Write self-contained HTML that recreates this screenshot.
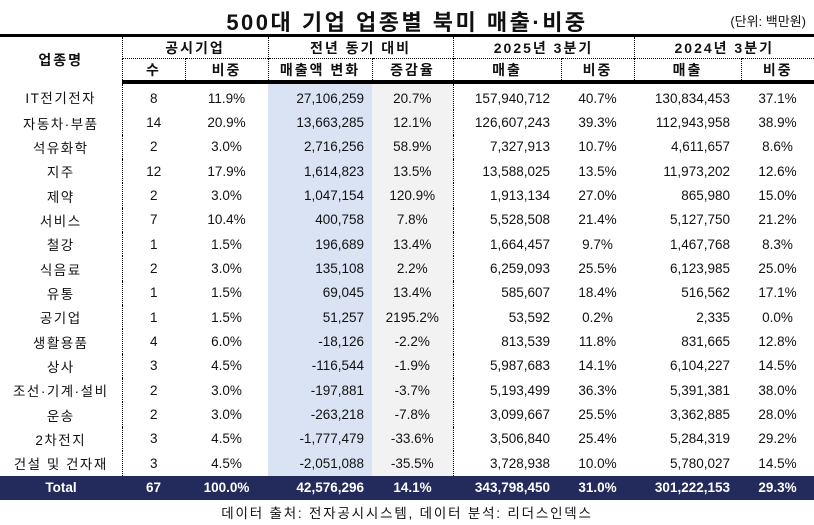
<!DOCTYPE html>
<html><head><meta charset="utf-8"><style>
body{margin:0;width:814px;height:525px;background:#fff;font-family:"Liberation Sans","Noto Sans CJK KR",sans-serif;color:#111;overflow:hidden;position:relative}
.title{position:absolute;top:5px;left:0;width:814px;text-align:center;font-size:22px;font-weight:bold;letter-spacing:2.5px}
.unit{position:absolute;top:11px;right:8px;font-size:13px}
table{position:absolute;top:34px;left:0;border-collapse:collapse;table-layout:fixed;width:814px;font-size:13.5px}
td{padding:0;height:24.35px;text-align:center;white-space:nowrap}
thead td{height:21px;font-weight:bold;font-size:14px;letter-spacing:2px}
thead tr:first-child td{border-top:3px solid #000}
thead tr:last-child td{border-bottom:4px solid #000;border-top:1px dotted #000}
tbody td:first-child{letter-spacing:1.5px}
.dl{border-left:1px dotted #000}
.r{text-align:right;padding-right:8px}
.rs{text-align:right;padding-right:11px}
.b{background:#dae3f3}.g{background:#f2f2f2}
tr.tot td{background:#232a5c;color:#fff;font-weight:bold;height:24px;letter-spacing:0}
tbody tr:first-child td{padding-top:2px}
.foot{position:absolute;top:502px;left:0;width:814px;text-align:center;font-size:13.5px;letter-spacing:1.8px}
</style></head><body>
<div class="title">500대 기업 업종별 북미 매출·비중</div>
<div class="unit">(단위: 백만원)</div>
<table>
<colgroup><col style="width:122px"><col style="width:63px"><col style="width:83px"><col style="width:104px"><col style="width:81px"><col style="width:108px"><col style="width:73px"><col style="width:107px"><col style="width:73px"></colgroup>
<thead>
<tr><td rowspan="2">업종명</td><td colspan="2" class="dl">공시기업</td><td colspan="2" class="dl">전년 동기 대비</td><td colspan="2" class="dl">2025년 3분기</td><td colspan="2" class="dl">2024년 3분기</td></tr>
<tr><td class="dl">수</td><td class="dl">비중</td><td class="dl">매출액 변화</td><td class="dl">증감율</td><td class="dl">매출</td><td class="dl">비중</td><td class="dl">매출</td><td class="dl">비중</td></tr>
</thead>
<tbody>
<tr><td>IT전기전자</td><td class="dl">8</td><td>11.9%</td><td class="b r">27,106,259</td><td class="g">20.7%</td><td class="dl rs">157,940,712</td><td>40.7%</td><td class="rs">130,834,453</td><td>37.1%</td></tr>
<tr><td>자동차·부품</td><td class="dl">14</td><td>20.9%</td><td class="b r">13,663,285</td><td class="g">12.1%</td><td class="dl rs">126,607,243</td><td>39.3%</td><td class="rs">112,943,958</td><td>38.9%</td></tr>
<tr><td>석유화학</td><td class="dl">2</td><td>3.0%</td><td class="b r">2,716,256</td><td class="g">58.9%</td><td class="dl rs">7,327,913</td><td>10.7%</td><td class="rs">4,611,657</td><td>8.6%</td></tr>
<tr><td>지주</td><td class="dl">12</td><td>17.9%</td><td class="b r">1,614,823</td><td class="g">13.5%</td><td class="dl rs">13,588,025</td><td>13.5%</td><td class="rs">11,973,202</td><td>12.6%</td></tr>
<tr><td>제약</td><td class="dl">2</td><td>3.0%</td><td class="b r">1,047,154</td><td class="g">120.9%</td><td class="dl rs">1,913,134</td><td>27.0%</td><td class="rs">865,980</td><td>15.0%</td></tr>
<tr><td>서비스</td><td class="dl">7</td><td>10.4%</td><td class="b r">400,758</td><td class="g">7.8%</td><td class="dl rs">5,528,508</td><td>21.4%</td><td class="rs">5,127,750</td><td>21.2%</td></tr>
<tr><td>철강</td><td class="dl">1</td><td>1.5%</td><td class="b r">196,689</td><td class="g">13.4%</td><td class="dl rs">1,664,457</td><td>9.7%</td><td class="rs">1,467,768</td><td>8.3%</td></tr>
<tr><td>식음료</td><td class="dl">2</td><td>3.0%</td><td class="b r">135,108</td><td class="g">2.2%</td><td class="dl rs">6,259,093</td><td>25.5%</td><td class="rs">6,123,985</td><td>25.0%</td></tr>
<tr><td>유통</td><td class="dl">1</td><td>1.5%</td><td class="b r">69,045</td><td class="g">13.4%</td><td class="dl rs">585,607</td><td>18.4%</td><td class="rs">516,562</td><td>17.1%</td></tr>
<tr><td>공기업</td><td class="dl">1</td><td>1.5%</td><td class="b r">51,257</td><td class="g">2195.2%</td><td class="dl rs">53,592</td><td>0.2%</td><td class="rs">2,335</td><td>0.0%</td></tr>
<tr><td>생활용품</td><td class="dl">4</td><td>6.0%</td><td class="b r">-18,126</td><td class="g">-2.2%</td><td class="dl rs">813,539</td><td>11.8%</td><td class="rs">831,665</td><td>12.8%</td></tr>
<tr><td>상사</td><td class="dl">3</td><td>4.5%</td><td class="b r">-116,544</td><td class="g">-1.9%</td><td class="dl rs">5,987,683</td><td>14.1%</td><td class="rs">6,104,227</td><td>14.5%</td></tr>
<tr><td>조선·기계·설비</td><td class="dl">2</td><td>3.0%</td><td class="b r">-197,881</td><td class="g">-3.7%</td><td class="dl rs">5,193,499</td><td>36.3%</td><td class="rs">5,391,381</td><td>38.0%</td></tr>
<tr><td>운송</td><td class="dl">2</td><td>3.0%</td><td class="b r">-263,218</td><td class="g">-7.8%</td><td class="dl rs">3,099,667</td><td>25.5%</td><td class="rs">3,362,885</td><td>28.0%</td></tr>
<tr><td>2차전지</td><td class="dl">3</td><td>4.5%</td><td class="b r">-1,777,479</td><td class="g">-33.6%</td><td class="dl rs">3,506,840</td><td>25.4%</td><td class="rs">5,284,319</td><td>29.2%</td></tr>
<tr><td>건설 및 건자재</td><td class="dl">3</td><td>4.5%</td><td class="b r">-2,051,088</td><td class="g">-35.5%</td><td class="dl rs">3,728,938</td><td>10.0%</td><td class="rs">5,780,027</td><td>14.5%</td></tr>
<tr class="tot"><td>Total</td><td>67</td><td>100.0%</td><td class="r">42,576,296</td><td>14.1%</td><td class="rs">343,798,450</td><td>31.0%</td><td class="rs">301,222,153</td><td>29.3%</td></tr>
</tbody>
</table>
<div class="foot">데이터 출처: 전자공시시스템, 데이터 분석: 리더스인덱스</div>
</body></html>
